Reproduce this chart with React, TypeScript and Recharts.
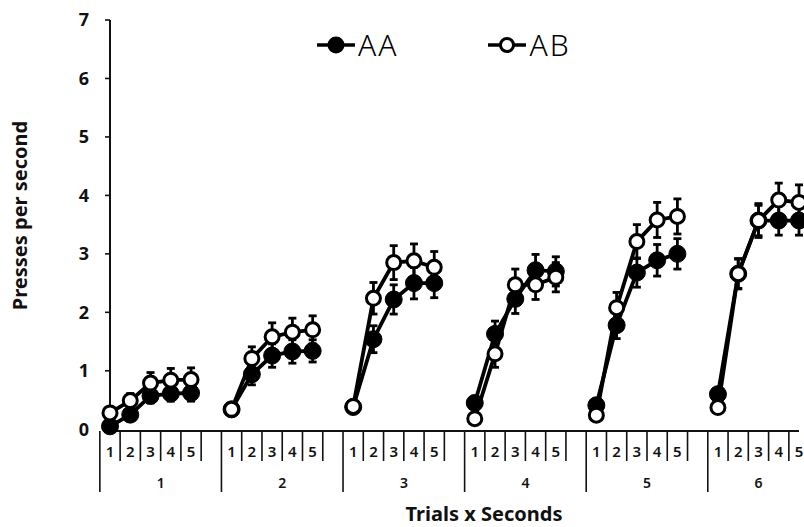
import React from 'react';
import { LineChart, Line, XAxis, YAxis, ErrorBar, Legend, Label } from 'recharts';

const trials = ['1', '2', '3', '4', '5', '6'];
const seconds = ['1', '2', '3', '4', '5'];
const yTicks = [0, 1, 2, 3, 4, 5, 6, 7];

const aaMean = [
  [0.05, 0.25, 0.57, 0.61, 0.62],
  [0.34, 0.94, 1.26, 1.33, 1.34],
  [0.38, 1.54, 2.22, 2.5, 2.5],
  [0.45, 1.63, 2.23, 2.72, 2.7],
  [0.41, 1.78, 2.68, 2.89, 3.0],
  [0.6, 2.66, 3.57, 3.57, 3.57],
];
const aaErr = [
  [0.08, 0.1, 0.12, 0.13, 0.14],
  [0.05, 0.18, 0.2, 0.2, 0.19],
  [0.06, 0.23, 0.25, 0.27, 0.25],
  [0.07, 0.22, 0.25, 0.27, 0.25],
  [0.07, 0.23, 0.25, 0.27, 0.26],
  [0.08, 0.25, 0.26, 0.25, 0.25],
];
const abMean = [
  [0.28, 0.49, 0.79, 0.84, 0.85],
  [0.34, 1.21, 1.58, 1.66, 1.7],
  [0.39, 2.24, 2.85, 2.88, 2.77],
  [0.18, 1.29, 2.47, 2.47, 2.6],
  [0.24, 2.08, 3.21, 3.58, 3.64],
  [0.37, 2.66, 3.57, 3.92, 3.88],
];
const abErr = [
  [0.08, 0.12, 0.18, 0.2, 0.2],
  [0.05, 0.2, 0.24, 0.24, 0.24],
  [0.06, 0.27, 0.29, 0.29, 0.27],
  [0.05, 0.23, 0.27, 0.25, 0.25],
  [0.05, 0.26, 0.29, 0.3, 0.3],
  [0.06, 0.26, 0.29, 0.29, 0.3],
];

type Row = {
  slot: string;
  trial: string;
  second: string;
  groupSize: number;
  aa: number | null;
  ab: number | null;
  aaErr: number | null;
  abErr: number | null;
};

const rows: Row[] = [];
trials.forEach((t, ti) => {
  const last = ti === trials.length - 1;
  const groupSize = seconds.length + (last ? 0 : 1);
  seconds.forEach((s, si) => {
    rows.push({
      slot: `${t}-${s}`,
      trial: t,
      second: s,
      groupSize,
      aa: aaMean[ti][si],
      ab: abMean[ti][si],
      aaErr: aaErr[ti][si],
      abErr: abErr[ti][si],
    });
  });
  if (!last) {
    rows.push({ slot: `${t}-gap`, trial: t, second: '', groupSize, aa: null, ab: null, aaErr: null, abErr: null });
  }
});

const FONT = '"Noto Sans", "Open Sans", "DejaVu Sans", sans-serif';
const INK = '#111';

const XTick = (props: any) => {
  const { x, y, payload } = props;
  const row = rows.find((r) => r.slot === payload.value);
  if (!row) return null;
  const half = typeof payload.offset === 'number' && payload.offset > 0 ? payload.offset : 10.15;
  const first = row.second === seconds[0];
  return (
    <g>
      <line x1={x - half} x2={x - half} y1={y} y2={y + (first ? 61 : 30)} stroke={INK} strokeWidth={1.6} />
      {row.second ? (
        <text x={x} y={y + 26} textAnchor="middle" fontSize={15} fontWeight={600} fill={INK} fontFamily={FONT}>
          {row.second}
        </text>
      ) : null}
      {first ? (
        <text x={x - half + row.groupSize * half} y={y + 57} textAnchor="middle" fontSize={14} fontWeight={600} fill={INK} fontFamily={FONT}>
          {row.trial}
        </text>
      ) : null}
    </g>
  );
};

const LegendContent = () => {
  const item = (label: string, filled: boolean, ml: number) => (
    <div style={{ display: 'flex', alignItems: 'center', marginLeft: ml }}>
      <svg width={38} height={24}>
        <line x1={0} x2={38} y1={12} y2={12} stroke="#000" strokeWidth={3.5} />
        {filled ? (
          <circle cx={19} cy={12} r={8.5} fill="#000" />
        ) : (
          <circle cx={19} cy={12} r={6.5} fill="#fff" stroke="#000" strokeWidth={3} />
        )}
      </svg>
      <span style={{ fontFamily: FONT, fontSize: 30, fontWeight: 300, color: '#000', marginLeft: 3, letterSpacing: 2, lineHeight: '30px' }}>{label}</span>
    </div>
  );
  return (
    <div style={{ display: 'flex', alignItems: 'center' }}>
      {item('AA', true, 0)}
      {item('AB', false, 90)}
    </div>
  );
};

export default function App() {
  return (
    <div style={{ position: 'fixed', left: 0, top: 0, width: 804, height: 527, overflow: 'hidden', background: '#fff' }}>
      <LineChart width={808} height={527} data={rows} margin={{ top: 20, right: 9, bottom: 0, left: 10 }}>
        <XAxis
          dataKey="slot"
          type="category"
          interval={0}
          height={96}
          tickSize={0}
          tickMargin={0}
          tickLine={false}
          axisLine={{ stroke: INK, strokeWidth: 2 }}
          tick={<XTick />}
          padding={{ left: 0, right: 0 }}
        >
          <Label
            content={(p: any) => {
              const vb = p.viewBox || { x: 100, y: 428, width: 711, height: 99 };
              return (
                <text x={484} y={vb.y + 90} textAnchor="middle" fontSize={20} fontWeight={700} fill={INK} fontFamily={FONT}>
                  Trials x Seconds
                </text>
              );
            }}
          />
        </XAxis>
        <YAxis
          width={100}
          domain={[0, 7]}
          ticks={yTicks}
          interval={0}
          tickSize={5}
          tickMargin={16}
          axisLine={{ stroke: INK, strokeWidth: 2 }}
          tickLine={{ stroke: INK, strokeWidth: 1.6 }}
          tick={{ fontSize: 18, fontWeight: 700, fill: INK, fontFamily: FONT }}
        >
          <Label
            content={(p: any) => {
              const vb = p.viewBox || { x: 0, y: 20, width: 100, height: 408 };
              const cx = 27;
              const cy = vb.y + vb.height / 2 - 10;
              return (
                <text x={cx} y={cy} transform={`rotate(-90, ${cx}, ${cy})`} textAnchor="middle" fontSize={20} fontWeight={700} fill={INK} fontFamily={FONT}>
                  Presses per second
                </text>
              );
            }}
          />
        </YAxis>
        <Legend
          layout="horizontal"
          verticalAlign="middle"
          align="center"
          content={<LegendContent />}
          wrapperStyle={{ position: 'absolute', top: 30, left: 317, width: 300, height: 30 }}
        />
        <Line
          dataKey="aa"
          name="AA"
          stroke="#000"
          strokeWidth={3.8}
          connectNulls={false}
          isAnimationActive={false}
          dot={{ r: 8.5, fill: '#000', stroke: '#000', strokeWidth: 1 }}
          activeDot={false}
        >
          <ErrorBar dataKey="aaErr" width={4} stroke="#000" strokeWidth={2.8} direction="y" />
        </Line>
        <Line
          dataKey="ab"
          name="AB"
          stroke="#000"
          strokeWidth={3.8}
          connectNulls={false}
          isAnimationActive={false}
          dot={{ r: 7, fill: '#fff', stroke: '#000', strokeWidth: 3 }}
          activeDot={false}
        >
          <ErrorBar dataKey="abErr" width={4} stroke="#000" strokeWidth={2.8} direction="y" />
        </Line>
      </LineChart>
    </div>
  );
}
